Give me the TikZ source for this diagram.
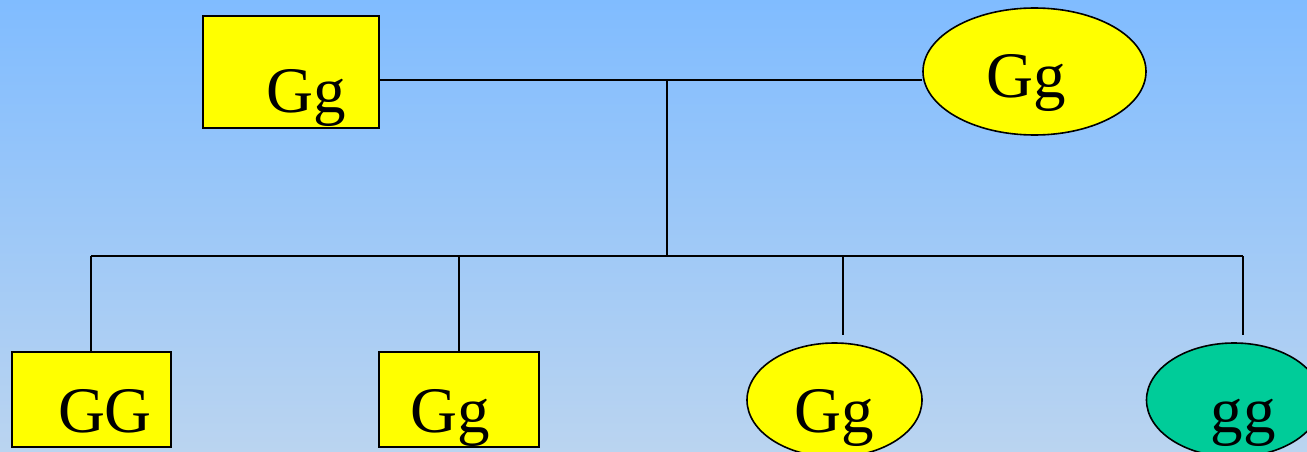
\documentclass[tikz,border=0pt]{standalone}
\usepackage{fontspec}
\setmainfont{Liberation Serif}
\usetikzlibrary{shapes.geometric}
\definecolor{bgtop}{RGB}{128,188,255}
\definecolor{bgbot}{RGB}{186,212,240}
\definecolor{yel}{RGB}{255,255,0}
\definecolor{teal2}{RGB}{0,204,153}
\begin{document}
\begin{tikzpicture}[x=1pt,y=1pt,
  boxshape/.style={draw=black,line width=2pt,fill=yel,rectangle,inner sep=0pt},
  ellshape/.style={draw=black,line width=1.6pt,ellipse,inner sep=0pt},
  lbl/.style={anchor=base,inner sep=0pt,font=\fontsize{65}{65}\selectfont},
  conn/.style={draw=black,line width=1.6pt}]
\useasboundingbox (0,0) rectangle (1307,451);
\shade[top color=bgtop,bottom color=bgbot] (0,0) rectangle (1307,451);
% parents
\node[boxshape,minimum width=176pt,minimum height=112pt] (tl) at (291,379) {};
\node[ellshape,fill=yel,minimum width=223pt,minimum height=127pt] (tr) at (1034.5,379.5) {};
% children
\node[boxshape,minimum width=159pt,minimum height=95pt] (c1) at (91,51.5) {};
\node[boxshape,minimum width=160pt,minimum height=95pt] (c2) at (459,51.5) {};
\node[ellshape,fill=yel,minimum width=175pt,minimum height=114pt] (c3) at (834.5,51) {};
\node[ellshape,fill=teal2,minimum width=175pt,minimum height=114pt] (c4) at (1234,51) {};
% labels
\node[lbl] (t1) at (306,338) {Gg};
\node[lbl] (t2) at (1026,354) {Gg};
\node[lbl] (t3) at (105,19) {GG};
\node[lbl] (t4) at (450,19) {Gg};
\node[lbl] (t5) at (834,19) {Gg};
\node[lbl] (t6) at (1243,19) {gg};
% connector coordinates
\coordinate (j) at (667,371);
\coordinate (h) at (667,195);
\coordinate (hl) at (91,195);
\coordinate (hr) at (1243,195);
\coordinate (e3) at (843,116);
\coordinate (e4) at (1243,116);
% connectors
\draw[conn] (tl.east |- j) -- (j) -- (tr.west |- j);
\draw[conn] (j) -- (h);
\draw[conn] (hl) -- (hr);
\draw[conn] (hl) -- (c1.north);
\draw[conn] (c2.north |- h) -- (c2.north);
\draw[conn] (e3 |- h) -- (e3);
\draw[conn] (hr) -- (e4);
\end{tikzpicture}
\end{document}
